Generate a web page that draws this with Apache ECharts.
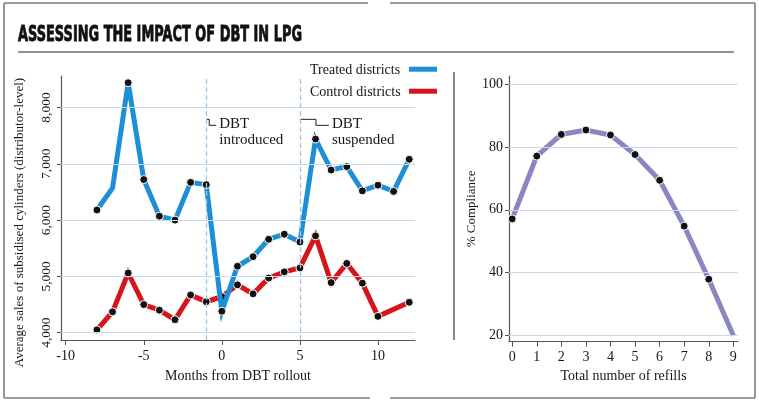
<!DOCTYPE html>
<html>
<head>
<meta charset="utf-8">
<script src="https://cdn.jsdelivr.net/npm/echarts@6/dist/echarts.min.js"></script>
<style>
html,body{margin:0;padding:0;background:#fff;}
#chart{width:759px;height:403px;}
</style>
</head>
<body>
<div id="chart"></div>
<script>
// ---- data ----
const titleText = 'ASSESSING THE IMPACT OF DBT IN LPG';
const treatedMonths = [-8,-7,-6,-5,-4,-3,-2,-1,0,1,2,3,4,5,6,7,8,9,10,11,12];
const treatedValues = [6180,6570,8440,6720,6070,6000,6670,6630,4380,5180,5350,5660,5750,5610,7440,6890,6950,6520,6620,6510,7080];
const treatedUnmarked = [-7];
const controlMonths = [-8,-7,-6,-5,-4,-3,-2,-1,0,1,2,3,4,5,6,7,8,9,10,12];
const controlValues = [4050,4370,5060,4500,4400,4230,4670,4550,4640,4850,4690,4970,5080,5150,5720,4890,5230,4880,4290,4540];
const refills = [0,1,2,3,4,5,6,7,8,9];
const compliance = [57.1,77.1,84.0,85.4,83.8,77.6,69.4,54.8,37.9,20.0];
const complianceUnmarked = [9];
const monthTicks = [-10,-5,0,5,10];
const salesTicks = [4000,5000,6000,7000,8000];
const refillTicks = [0,1,2,3,4,5,6,7,8,9];
const complianceTicks = [20,40,60,80,100];
const eventMonths = [-1,5];
const eventLabels = ['DBT\nintroduced','DBT\nsuspended'];
const seriesNames = ['Treated districts','Control districts'];

// ---- styles ----
const SERIF = '"Liberation Serif", "DejaVu Serif", serif';
const TXT = '#15151d';
const AX = '#555';
const GRIDC = '#c6dcea';
const BLUE = '#1c8fd6';
const RED = '#d5141c';
const PURPLE = '#8a86c2';

function pts(xs, ys, unmarked) {
  return xs.map((x, i) => unmarked && unmarked.indexOf(x) >= 0
    ? { value: [x, ys[i]], symbol: 'none' }
    : [x, ys[i]]);
}

const chart = echarts.init(document.getElementById('chart'), null, { renderer: 'canvas' });

const labelStyle = { color: TXT, fontFamily: SERIF, fontSize: 14 };
const mlBase = { silent: true, symbol: ['none','none'], label: { show: false }, emphasis: { disabled: true }, animation: false };
const dotStyle = { color: '#111', borderColor: '#fff', borderWidth: 1 };

const option = {
  animation: false,
  backgroundColor: '#fff',
  grid: [
    { left: 61, top: 76, width: 354, height: 264 },
    { left: 509, top: 76, width: 229, height: 265.7 }
  ],
  xAxis: [
    {
      gridIndex: 0, type: 'value', min: -10.3, max: 12.37,
      axisLine: { show: true, onZero: false, lineStyle: { color: AX, width: 1.2 } },
      axisTick: { show: true, customValues: monthTicks, length: 5, lineStyle: { color: AX } },
      axisLabel: Object.assign({ customValues: monthTicks, margin: 9 }, labelStyle),
      splitLine: { show: false },
      name: 'Months from DBT rollout', nameLocation: 'middle', nameGap: 29,
      nameTextStyle: { color: TXT, fontFamily: SERIF, fontSize: 14 }
    },
    {
      gridIndex: 1, type: 'value', min: -0.13, max: 9.19,
      axisLine: { show: true, onZero: false, lineStyle: { color: AX, width: 1.2 } },
      axisTick: { show: true, customValues: refillTicks, length: 5, lineStyle: { color: AX } },
      axisLabel: Object.assign({ customValues: refillTicks, margin: 9 }, labelStyle),
      splitLine: { show: false },
      name: 'Total number of refills', nameLocation: 'middle', nameGap: 27,
      nameTextStyle: { color: TXT, fontFamily: SERIF, fontSize: 14 }
    }
  ],
  yAxis: [
    {
      gridIndex: 0, type: 'value', min: 3870, max: 8560,
      axisLine: { show: true, onZero: false, lineStyle: { color: AX, width: 1.2 } },
      axisTick: { show: true, customValues: salesTicks, length: 4, lineStyle: { color: AX } },
      axisLabel: Object.assign({ customValues: salesTicks, rotate: 90, margin: 8,
        formatter: v => Number(v).toLocaleString('en-US') }, labelStyle, { fontSize: 13.5 }),
      splitLine: { show: false }
    },
    {
      gridIndex: 1, type: 'value', min: 18, max: 102.6,
      axisLine: { show: true, onZero: false, lineStyle: { color: AX, width: 1.2 } },
      axisTick: { show: true, customValues: complianceTicks, length: 4, lineStyle: { color: AX } },
      axisLabel: Object.assign({ customValues: complianceTicks, margin: 6 }, labelStyle),
      splitLine: { show: false },
      name: '% Compliance', nameLocation: 'middle', nameGap: 30, nameRotate: 90,
      nameTextStyle: { color: TXT, fontFamily: SERIF, fontSize: 13 }
    }
  ],
  series: [
    {
      type: 'line', xAxisIndex: 0, yAxisIndex: 0, data: [], z: 1, silent: true,
      markLine: Object.assign({}, mlBase, {
        data: salesTicks.map(v => ({ yAxis: v, lineStyle: { color: GRIDC, width: 1, type: 'solid' } }))
          .concat(eventMonths.map(m => ({ xAxis: m, lineStyle: { color: '#9cc6e2', width: 1.3, type: [5, 3] } })))
      })
    },
    {
      name: seriesNames[1], type: 'line', xAxisIndex: 0, yAxisIndex: 0, z: 3,
      data: pts(controlMonths, controlValues),
      symbol: 'circle', symbolSize: 8,
      lineStyle: { color: RED, width: 5, join: 'miter', miterLimit: 6 },
      itemStyle: dotStyle
    },
    {
      name: seriesNames[0], type: 'line', xAxisIndex: 0, yAxisIndex: 0, z: 4,
      data: pts(treatedMonths, treatedValues, treatedUnmarked),
      symbol: 'circle', symbolSize: 8,
      lineStyle: { color: BLUE, width: 5, join: 'miter', miterLimit: 6 },
      itemStyle: dotStyle
    },
    {
      type: 'line', xAxisIndex: 1, yAxisIndex: 1, data: [], z: 1, silent: true,
      markLine: Object.assign({}, mlBase, {
        data: complianceTicks.map(v => ({ yAxis: v, lineStyle: { color: GRIDC, width: 1, type: 'solid' } }))
      })
    },
    {
      name: 'Compliance', type: 'line', xAxisIndex: 1, yAxisIndex: 1, z: 3,
      data: pts(refills, compliance, complianceUnmarked),
      symbol: 'circle', symbolSize: 8,
      lineStyle: { color: PURPLE, width: 5, join: 'miter', miterLimit: 6 },
      itemStyle: dotStyle
    }
  ]
};
chart.setOption(option);

// ---- decorations (frame, title, legend, annotations) ----
const ctx = document.createElement('canvas').getContext('2d');
const titleFont = 'bold 21px "DejaVu Sans"';
ctx.font = titleFont;
const titleW = ctx.measureText(titleText).width;
const titleScale = 284 / titleW;

const FRAME = '#7c7c7c';
const g = [];
function line(x1, y1, x2, y2, color, w) {
  g.push({ type: 'line', silent: true, shape: { x1, y1, x2, y2 }, style: { stroke: color, lineWidth: w } });
}
// outer frame with small breaks
line(4, 3, 368, 3, FRAME, 1.6); line(390, 3, 755, 3, FRAME, 1.6);
line(4, 398, 370, 398, FRAME, 1.6); line(390, 398, 755, 398, FRAME, 1.6);
line(4, 3, 4, 398, FRAME, 1.6); line(755, 3, 755, 398, FRAME, 1.6);
// title underline
line(18, 52, 734, 52, '#6e6e6e', 1.6);
// separator
line(454, 72, 454, 340, '#555', 1.4);

g.push({
  type: 'text', silent: true, x: 18, y: 36, scaleX: titleScale, scaleY: 1,
  style: { text: titleText, font: titleFont, fill: '#111', stroke: '#111', lineWidth: 0.9,
    align: 'left', verticalAlign: 'middle' }
});

// legend
[[seriesNames[0], BLUE, 70], [seriesNames[1], RED, 92]].forEach(([t, c, y]) => {
  g.push({ type: 'text', silent: true, x: 310, y: y,
    style: { text: t, fill: TXT, font: '14px ' + SERIF, align: 'left', verticalAlign: 'middle' } });
  g.push({ type: 'rect', silent: true, shape: { x: 409, y: y - 3.3, width: 28, height: 5 }, style: { fill: c } });
});

// annotations
const topPx = chart.convertToPixel({ gridIndex: 0 }, [0, 7790])[1];
eventMonths.forEach((m, i) => {
  const px = chart.convertToPixel({ gridIndex: 0 }, [m, 7790])[0];
  const bend = i === 0 ? 3 : 16;
  const end = i === 0 ? 10 : 29;
  g.push({ type: 'polyline', silent: true,
    shape: { points: [[px, topPx], [px + bend, topPx], [px + bend, topPx + 6], [px + end, topPx + 6]] },
    style: { stroke: '#222', lineWidth: 1, fill: null } });
  g.push({ type: 'text', silent: true, x: px + end + 3, y: topPx - 3.5,
    style: { text: eventLabels[i], fill: TXT, font: '15px ' + SERIF, lineHeight: 16, align: 'left', verticalAlign: 'top' } });
});

// left y-axis name
g.push({ type: 'text', silent: true, x: 20, y: 222.5, rotation: Math.PI / 2,
  style: { text: 'Average sales of subsidised cylinders (distributor-level)', fill: TXT,
    font: '13px ' + SERIF, align: 'center', verticalAlign: 'middle' } });

chart.setOption({ graphic: { elements: g } });
</script>
</body>
</html>
